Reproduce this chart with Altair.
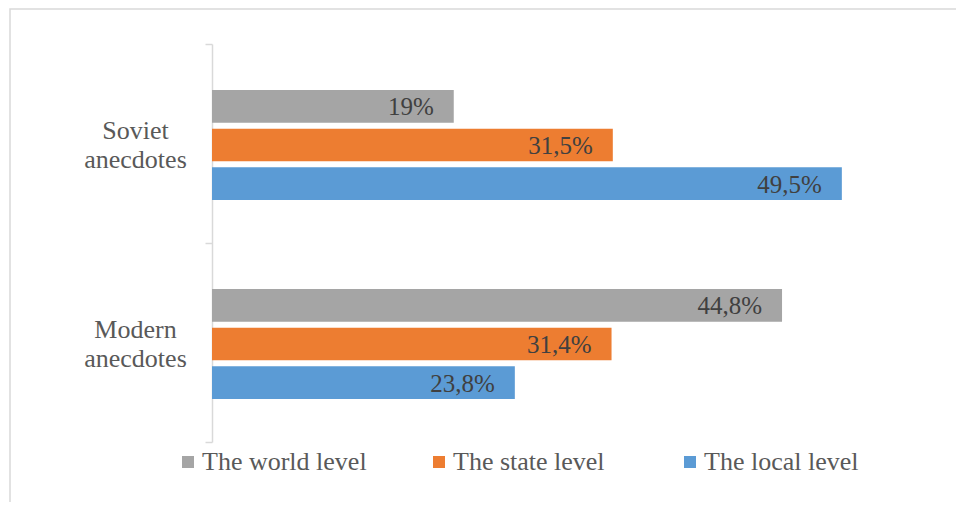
import altair as alt
import pandas as pd

categories = ["Soviet anecdotes", "Modern anecdotes"]
series = ["The world level", "The state level", "The local level"]
soviet_values = [19, 31.5, 49.5]
modern_values = [44.8, 31.4, 23.8]
colors = ["#A5A5A5", "#ED7D31", "#5B9BD5"]

rows = []
for cat, vals in zip(categories, [soviet_values, modern_values]):
    for s, v in zip(series, vals):
        label = (f"{v:g}").replace(".", ",") + "%"
        rows.append({"category": cat, "series": s, "value": v, "label": label})
df = pd.DataFrame(rows)

FONT = "Liberation Serif"

y_enc = alt.Y(
    "category:N",
    sort=categories,
    scale=alt.Scale(paddingInner=0, paddingOuter=0),
    axis=alt.Axis(
        title=None,
        labelExpr="split(datum.label, ' ')",
        labelAlign="center",
        labelBaseline="middle",
        labelPadding=70,
        labelOffset=-13,
        labelLineHeight=29,
        labelFont=FONT,
        labelFontSize=26,
        labelColor="#595959",
        tickBand="extent",
        tickSize=7,
        tickColor="#D9D9D9",
        tickWidth=1.5,
        domainColor="#D9D9D9",
        domainWidth=1.5,
        grid=False,
    ),
)
yoff_enc = alt.YOffset(
    "series:N",
    sort=series,
    scale=alt.Scale(range=[46, 156], paddingInner=0.156, paddingOuter=0),
)
x_enc = alt.X("value:Q", scale=alt.Scale(domain=[0, 58]), axis=None)

bars = alt.Chart(df).mark_bar(strokeWidth=0).encode(
    x=x_enc,
    y=y_enc,
    yOffset=yoff_enc,
    color=alt.Color(
        "series:N",
        sort=series,
        scale=alt.Scale(domain=series, range=colors),
        legend=alt.Legend(
            title=None,
            orient="none",
            legendX=-37,
            legendY=405,
            direction="horizontal",
            symbolType="square",
            symbolSize=144,
            symbolStrokeWidth=0,
            labelFont=FONT,
            labelFontSize=26,
            labelColor="#595959",
            labelOffset=1,
            labelLimit=400,
            columnPadding=59,
            gridAlign="all",
            padding=0,
        ),
    ),
)

texts = alt.Chart(df).mark_text(
    align="right", baseline="middle", dx=-20, dy=1,
    font=FONT, fontSize=25, color="#404040",
).encode(
    x=x_enc,
    y=alt.Y("category:N", sort=categories),
    yOffset=alt.YOffset("series:N", sort=series),
    text="label:N",
)

frame_data = pd.DataFrame({"frame": [0]})
frame = alt.Chart(frame_data).mark_rect(
    filled=False, stroke="#D9D9D9", strokeWidth=1.5
).encode(
    x=alt.value(-202), x2=alt.value(3000),
    y=alt.value(-35), y2=alt.value(3000),
)

chart = alt.layer(frame, bars, texts).properties(
    width=738,
    height=398,
    autosize=alt.AutoSizeParams(type="none"),
    padding={"left": 204, "top": 36, "right": 6, "bottom": 60},
).configure_view(strokeWidth=0)

chart.save("out.html", embed_options={"renderer": "svg", "actions": False})
